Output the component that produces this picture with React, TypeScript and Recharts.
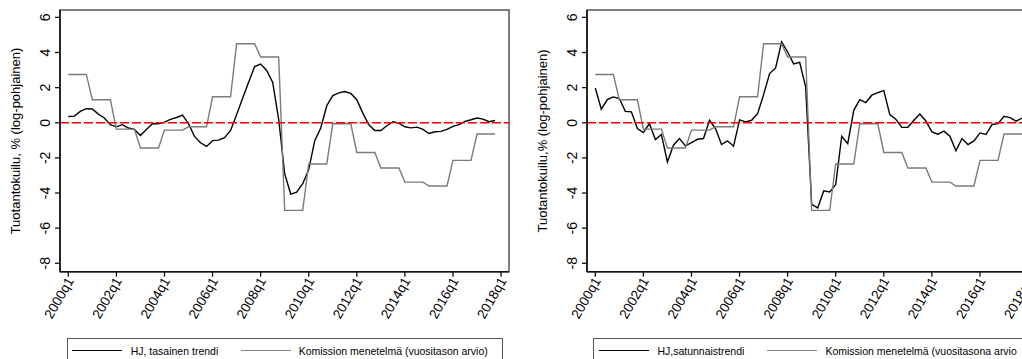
import React from 'react';
import { LineChart, Line, XAxis, YAxis, ReferenceLine, ReferenceArea } from 'recharts';

const years = [2000, 2001, 2002, 2003, 2004, 2005, 2006, 2007, 2008, 2009, 2010, 2011, 2012, 2013, 2014, 2015, 2016, 2017];
const quarterLabels = years.flatMap((y) => [1, 2, 3, 4].map((q) => `${y}q${q}`));
const xTickIndex = [0, 8, 16, 24, 32, 40, 48, 56, 64, 72];
const xTickLabels = ['2000q1', '2002q1', '2004q1', '2006q1', '2008q1', '2010q1', '2012q1', '2014q1', '2016q1', '2018q1'];
const yTicks = [-8, -6, -4, -2, 0, 2, 4, 6];

// HJ, tasainen trendi (quarterly, 2000q1-2017q4)
const hjTasainen = [
  0.36, 0.38, 0.65, 0.8, 0.78, 0.49, 0.27, -0.11,
  -0.23, -0.11, -0.3, -0.38, -0.72, -0.38, -0.06, -0.06,
  0.04, 0.19, 0.3, 0.44, -0.05, -0.78, -1.14, -1.35,
  -1.02, -0.99, -0.85, -0.44, 0.46, 1.4, 2.31, 3.2,
  3.34, 2.98, 2.31, 0.2, -2.9, -4.06, -3.95, -3.47,
  -2.67, -1.02, -0.3, 0.97, 1.55, 1.7, 1.78, 1.67,
  1.31, 0.55, -0.12, -0.44, -0.44, -0.17, 0.06, -0.02,
  -0.23, -0.29, -0.25, -0.38, -0.61, -0.51, -0.49, -0.38,
  -0.21, -0.11, 0.08, 0.17, 0.27, 0.21, 0.06, 0.13,
];

// HJ, satunnaistrendi (quarterly, 2000q1-2017q4)
const hjSatunnainen = [
  1.98, 0.77, 1.32, 1.47, 1.38, 0.65, 0.62, -0.33,
  -0.56, -0.05, -0.96, -0.67, -2.23, -1.28, -0.9, -1.32,
  -1.13, -0.94, -0.9, 0.14, -0.33, -1.24, -1.03, -1.34,
  0.16, 0.05, 0.14, 0.52, 1.6, 2.8, 3.12, 4.6,
  4.03, 3.35, 3.44, 2.04, -4.64, -4.85, -3.88, -3.94,
  -3.52, -0.77, -1.19, 0.71, 1.32, 1.15, 1.57, 1.72,
  1.83, 0.46, 0.2, -0.26, -0.26, 0.14, 0.5, 0.1,
  -0.52, -0.65, -0.48, -0.77, -1.6, -0.9, -1.24, -1.03,
  -0.58, -0.67, -0.1, -0.05, 0.37, 0.29, 0.09, 0.27,
];

// Komission menetelmä, annual estimate 2000-2017
const komissioVuosi = [2.75, 1.31, -0.36, -1.44, -0.42, -0.23, 1.48, 4.5, 3.74, -4.99, -2.35, -0.06, -1.69, -2.58, -3.38, -3.6, -2.14, -0.64];

const FONT = "'Liberation Sans', Arial, Helvetica, sans-serif";
const X_DOMAIN: [number, number] = [-1.38, 73.32];
const Y_DOMAIN: [number, number] = [-8.48, 6.42];

function buildData(hj: number[]) {
  return quarterLabels.map((label, i) => ({
    q: i,
    label,
    hj: hj[i],
    kom: komissioVuosi[Math.floor(i / 4)],
  }));
}

const XTick = (props: any) => {
  const { x, y, payload } = props;
  const idx = xTickIndex.indexOf(payload.value);
  const lbl = idx >= 0 ? xTickLabels[idx] : '';
  const ax = x + 6;
  const ay = y + 4;
  return (
    <text x={ax} y={ay} transform={`rotate(-60 ${ax} ${ay})`} textAnchor="end" fontSize={13.5} fill="#000" fontFamily={FONT}>
      {lbl}
    </text>
  );
};

const YTick = (props: any) => {
  const { x, y, payload } = props;
  const ax = x - 5;
  return (
    <text x={ax} y={y} transform={`rotate(-90 ${ax} ${y})`} textAnchor="middle" fontSize={14} fill="#000" fontFamily={FONT}>
      {payload.value}
    </text>
  );
};

type PanelProps = {
  left: number;
  hj: number[];
  yTitle: string;
  hjLabel: string;
  komLabel: string;
};

const Panel = ({ left, hj, yTitle, hjLabel, komLabel }: PanelProps) => {
  const data = buildData(hj);
  return (
    <div style={{ position: 'absolute', left, top: 0, width: 527, height: 359 }}>
      <LineChart width={527} height={359} data={data} margin={{ top: 10, right: 18, left: 0, bottom: 0 }}>
        <ReferenceArea
          x1={X_DOMAIN[0]}
          x2={X_DOMAIN[1]}
          y1={Y_DOMAIN[0]}
          y2={Y_DOMAIN[1]}
          fill="none"
          fillOpacity={0}
          stroke="#555"
          strokeWidth={1.5}
          ifOverflow="visible"
        />
        <XAxis
          dataKey="q"
          type="number"
          domain={X_DOMAIN}
          ticks={xTickIndex}
          interval={0}
          height={87.3}
          tickSize={5}
          tickMargin={0}
          tick={<XTick />}
          axisLine={{ stroke: '#111', strokeWidth: 1.6 }}
          tickLine={{ stroke: '#111', strokeWidth: 1.3 }}
          allowDataOverflow
        />
        <YAxis
          type="number"
          domain={Y_DOMAIN}
          ticks={yTicks}
          interval={0}
          width={60}
          tickSize={5}
          tickMargin={0}
          tick={<YTick />}
          axisLine={{ stroke: '#111', strokeWidth: 1.6 }}
          tickLine={{ stroke: '#111', strokeWidth: 1.3 }}
          allowDataOverflow
          label={() => (
            <text x={20} y={141} transform="rotate(-90 20 141)" textAnchor="middle" fontSize={13} fill="#000" fontFamily={FONT}>
              {yTitle}
            </text>
          )}
        />
        <Line type="linear" dataKey="hj" stroke="#000" strokeWidth={1.4} dot={false} isAnimationActive={false} />
        <Line type="linear" dataKey="kom" stroke="#7a7a7a" strokeWidth={1.4} dot={false} isAnimationActive={false} />
        <ReferenceLine y={0} stroke="#ff0000" strokeWidth={1.4} strokeDasharray="9 3" />
      </LineChart>
      <div
        style={{
          position: 'absolute',
          left: 66.7,
          top: 337.5,
          width: 436,
          height: 40,
          border: '1.3px solid #555',
          boxSizing: 'border-box',
          background: '#fff',
          fontFamily: FONT,
          fontSize: 10.5,
        }}
      >
        <div style={{ position: 'absolute', left: 4.5, top: 11.5, width: 50, height: 0, borderTop: '1.5px solid #000' }} />
        <span style={{ position: 'absolute', left: 63, top: 6, lineHeight: '12px', whiteSpace: 'nowrap', color: '#000' }}>{hjLabel}</span>
        <div style={{ position: 'absolute', left: 173, top: 11.5, width: 50, height: 0, borderTop: '1.5px solid #8a8a8a' }} />
        <span style={{ position: 'absolute', left: 231, top: 6, lineHeight: '12px', whiteSpace: 'nowrap', color: '#000' }}>{komLabel}</span>
      </div>
    </div>
  );
}

export default function App() {
  return (
    <div style={{ position: 'fixed', left: 0, top: 0, width: 1022, height: 359, overflow: 'hidden', background: '#fff', fontFamily: FONT }}>
      <Panel
        left={0}
        hj={hjTasainen}
        yTitle="Tuotantokuilu, % (log-pohjainen)"
        hjLabel="HJ, tasainen trendi"
        komLabel="Komission menetelmä (vuositason arvio)"
      />
      <Panel
        left={526.7}
        hj={hjSatunnainen}
        yTitle="Tuotantokuilu,% (log-pohjainen)"
        hjLabel="HJ,satunnaistrendi"
        komLabel="Komission menetelmä (vuositasona arvio"
      />
    </div>
  );
}
